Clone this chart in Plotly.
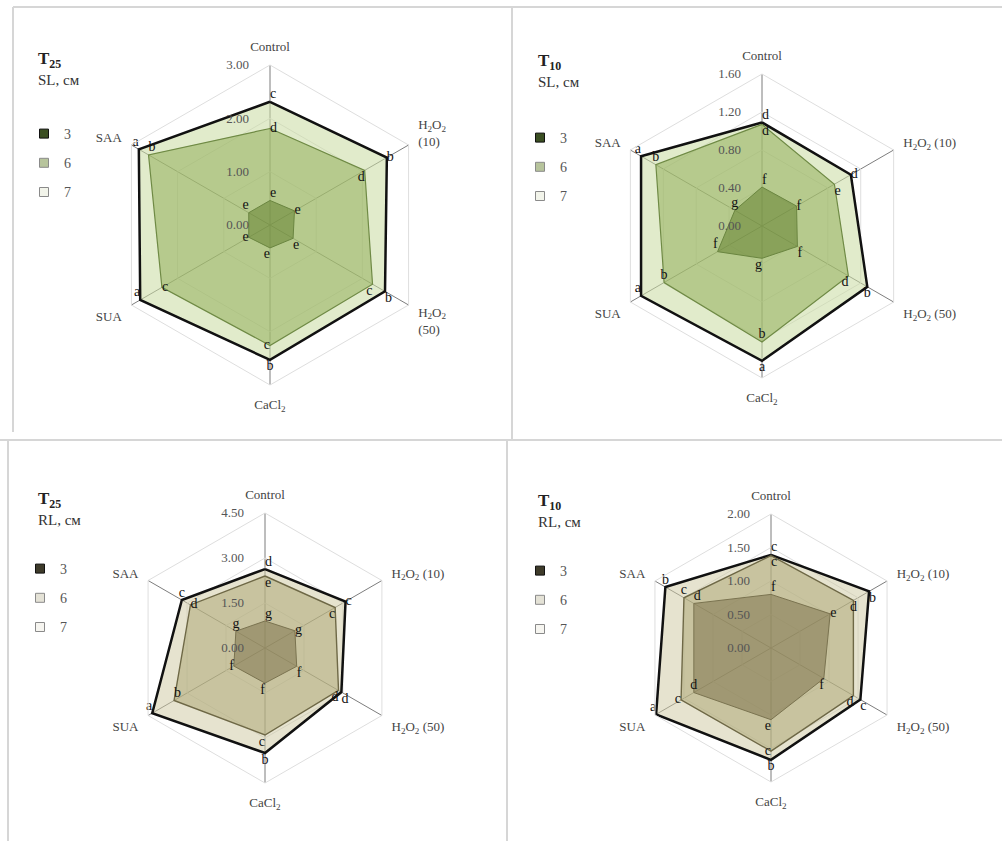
import plotly.graph_objects as go

# Treatment categories (angular axis), clockwise from the top
cats_wrap = ["Control", "H<sub>2</sub>O<sub>2</sub><br>(10)", "H<sub>2</sub>O<sub>2</sub><br>(50)",
             "CaCl<sub>2</sub>", "SUA", "SAA"]
cats = ["Control", "H<sub>2</sub>O<sub>2</sub> (10)", "H<sub>2</sub>O<sub>2</sub> (50)",
        "CaCl<sub>2</sub>", "SUA", "SAA"]
days = ["3", "6", "7"]

# T25, shoot length (cm)
sl25_d3 = [0.46, 0.53, 0.50, 0.43, 0.46, 0.46]
sl25_d6 = [1.81, 2.05, 2.22, 2.26, 2.34, 2.63]
sl25_d7 = [2.31, 2.53, 2.49, 2.53, 2.81, 2.84]
sl25_l3 = ["e", "e", "e", "e", "e", "e"]
sl25_l6 = ["d", "d", "c", "c", "c", "b"]
sl25_l7 = ["c", "b", "b", "b", "a", "a"]

# T10, shoot length (cm)
sl10_d3 = [0.41, 0.42, 0.43, 0.34, 0.54, 0.33]
sl10_d6 = [1.07, 0.88, 1.05, 1.22, 1.19, 1.29]
sl10_d7 = [1.09, 1.08, 1.28, 1.42, 1.47, 1.47]
sl10_l3 = ["f", "f", "f", "g", "f", "g"]
sl10_l6 = ["d", "e", "d", "b", "b", "b"]
sl10_l7 = ["d", "d", "b", "a", "a", "a"]

# T25, root length (cm)
rl25_d3 = [0.90, 1.15, 1.22, 1.17, 1.20, 1.12]
rl25_d6 = [2.40, 2.70, 2.83, 2.90, 3.50, 2.87]
rl25_d7 = [2.63, 3.10, 2.94, 3.50, 4.34, 3.20]
rl25_l3 = ["g", "g", "f", "f", "f", "g"]
rl25_l6 = ["e", "c", "d", "c", "b", "d"]
rl25_l7 = ["d", "c", "d", "b", "a", "c"]

# T10, root length (cm)
rl10_d3 = [0.80, 1.02, 0.91, 1.07, 1.33, 1.33]
rl10_d6 = [1.38, 1.42, 1.42, 1.54, 1.55, 1.50]
rl10_d7 = [1.39, 1.69, 1.54, 1.67, 1.98, 1.82]
rl10_l3 = ["f", "e", "f", "e", "d", "d"]
rl10_l6 = ["c", "d", "d", "c", "c", "c"]
rl10_l7 = ["c", "b", "c", "b", "a", "b"]

SERIF = "Liberation Serif"
W, H = 1002, 841

green = {
    "fill": ["rgba(100,130,50,0.55)", "rgba(140,170,80,0.5)", "rgba(200,218,160,0.55)"],
    "line": ["#6a8540", "#6f8a45", "#111111"],
    "width": [1, 1.2, 2.5],
    "swatch": ["#3b4f22", "#b7c49c", "#f2f4ea"],
    "swline": ["#111111", "#8a8a8a", "#8a8a8a"],
}
olive = {
    "fill": ["rgba(127,116,78,0.55)", "rgba(170,164,112,0.5)", "rgba(205,200,160,0.5)"],
    "line": ["#7a7350", "#6e6846", "#111111"],
    "width": [1, 1.4, 2.5],
    "swatch": ["#3e3b2a", "#e4e2d6", "#f6f5f0"],
    "swline": ["#111111", "#8a8a8a", "#8a8a8a"],
}

panels = [
    dict(key="polar", leg="legend", t="25", q="SL", theta=cats_wrap, vals=[sl25_d3, sl25_d6, sl25_d7],
         labs=[sl25_l3, sl25_l6, sl25_l7], rmax=3.0, dtick=1.0, c=(270, 225), R=160, pal=green,
         tl=(36, 60), lg=(24, 118),
         pos=[["top right", "middle right", "bottom right", "bottom left", "middle left", "top left"],
              ["middle right", "bottom left", "bottom left", "middle left", "middle right", "top right"],
              ["top right", "middle right", "bottom right", "bottom center", "top left", "top left"]]),
    dict(key="polar2", leg="legend2", t="10", q="SL", theta=cats, vals=[sl10_d3, sl10_d6, sl10_d7],
         labs=[sl10_l3, sl10_l6, sl10_l7], rmax=1.6, dtick=0.4, c=(762, 226), R=152, pal=green,
         tl=(536, 62), lg=(520, 122),
         pos=[["top right", "middle right", "bottom right", "bottom left", "top left", "top center"],
              ["bottom right", "bottom right", "bottom left", "top center", "top center", "top center"],
              ["top right", "middle right", "bottom center", "bottom center", "top left", "top left"]]),
    dict(key="polar3", leg="legend3", t="25", q="RL", theta=cats, vals=[rl25_d3, rl25_d6, rl25_d7],
         labs=[rl25_l3, rl25_l6, rl25_l7], rmax=4.5, dtick=1.5, c=(265, 648), R=135, pal=olive,
         tl=(36, 500), lg=(20, 553),
         pos=[["top right", "middle right", "bottom right", "bottom left", "middle left", "top center"],
              ["bottom right", "bottom left", "bottom left", "bottom left", "top right", "middle right"],
              ["top right", "middle right", "bottom right", "bottom center", "top left", "top center"]]),
    dict(key="polar4", leg="legend4", t="10", q="RL", theta=cats, vals=[rl10_d3, rl10_d6, rl10_d7],
         labs=[rl10_l3, rl10_l6, rl10_l7], rmax=2.0, dtick=0.5, c=(771, 648), R=134, pal=olive,
         tl=(536, 502), lg=(520, 555),
         pos=[["top right", "middle right", "bottom left", "bottom left", "top center", "top right"],
              ["bottom right", "bottom center", "bottom left", "middle left", "middle left", "top center"],
              ["top right", "bottom right", "bottom right", "bottom center", "top left", "top center"]]),
]

fig = go.Figure()
layout = dict(
    width=W, height=H, margin=dict(l=0, r=0, t=0, b=0),
    paper_bgcolor="white", plot_bgcolor="white",
    font=dict(family=SERIF, size=13, color="#444"),
    annotations=[], shapes=[],
)

for p in panels:
    pal = p["pal"]
    # polygons drawn largest first so the smaller ones sit on top
    for i in (2, 1, 0):
        r = p["vals"][i] + [p["vals"][i][0]]
        th = p["theta"] + [p["theta"][0]]
        fig.add_trace(go.Scatterpolar(
            r=r, theta=th, subplot=p["key"], mode="lines", fill="toself",
            fillcolor=pal["fill"][i], line=dict(color=pal["line"][i], width=pal["width"][i]),
            showlegend=False, hoverinfo="skip"))
    # significance letters at each vertex
    for i in (2, 1, 0):
        fig.add_trace(go.Scatterpolar(
            r=p["vals"][i], theta=p["theta"], subplot=p["key"], mode="text",
            text=p["labs"][i], textposition=p["pos"][i],
            textfont=dict(family=SERIF, size=14, color="#111"),
            showlegend=False, hoverinfo="skip"))
    # legend swatches
    for i in (0, 1, 2):
        fig.add_trace(go.Scatterpolar(
            r=[None], theta=[p["theta"][0]], subplot=p["key"], mode="markers",
            name=days[i], legend=p["leg"], legendgroup=p["leg"] + days[i],
            marker=dict(symbol="square", size=9, color=pal["swatch"][i],
                        line=dict(color=pal["swline"][i], width=1))))

    cx, cy = p["c"]
    R = p["R"]
    layout[p["key"]] = dict(
        domain=dict(x=[(cx - R) / W, (cx + R) / W], y=[1 - (cy + R) / H, 1 - (cy - R) / H]),
        gridshape="linear", bgcolor="rgba(0,0,0,0)",
        radialaxis=dict(range=[0, p["rmax"]], dtick=p["dtick"], tick0=0, tickformat=".2f",
                        angle=90, side="counterclockwise", tickangle=90,
                        showline=False, ticks="outside", ticklen=16, tickcolor="rgba(0,0,0,0)",
                        gridcolor="#dedede", gridwidth=1,
                        tickfont=dict(family=SERIF, size=13, color="#555")),
        angularaxis=dict(rotation=90, direction="clockwise", type="category",
                         showline=True, linecolor="#dedede", linewidth=1,
                         gridcolor="#7d7d7d", gridwidth=1,
                         ticks="outside", ticklen=8, tickcolor="rgba(0,0,0,0)",
                         tickfont=dict(family=SERIF, size=13, color="#444")),
    )
    lx, ly = p["lg"]
    layout[p["leg"]] = dict(
        x=lx / W, y=1 - ly / H, xanchor="left", yanchor="top",
        bgcolor="rgba(0,0,0,0)", itemwidth=30, tracegroupgap=8,
        font=dict(family=SERIF, size=14, color="#555"),
    )
    tx, ty = p["tl"]
    layout["annotations"].append(dict(
        x=tx / W, y=1 - ty / H, xref="paper", yref="paper", xanchor="left", yanchor="middle",
        text="<b>T<sub>" + p["t"] + "</sub></b>", showarrow=False,
        font=dict(family=SERIF, size=17, color="#222")))
    layout["annotations"].append(dict(
        x=tx / W, y=1 - (ty + 20) / H, xref="paper", yref="paper", xanchor="left", yanchor="middle",
        text=p["q"] + ", см", showarrow=False,
        font=dict(family=SERIF, size=15, color="#333")))

# panel frames
frame = dict(type="line", xref="paper", yref="paper", line=dict(color="#d6d6d6", width=2))
for x0, y0, x1, y1 in [(13, 7, 1002, 7), (13, 7, 13, 432), (512, 7, 512, 440),
                       (0, 440, 1002, 440), (8, 440, 8, 841), (507, 440, 507, 841)]:
    layout["shapes"].append(dict(frame, x0=x0 / W, x1=x1 / W, y0=1 - y0 / H, y1=1 - y1 / H))

fig.update_layout(**layout)
fig.write_html("out.html")
